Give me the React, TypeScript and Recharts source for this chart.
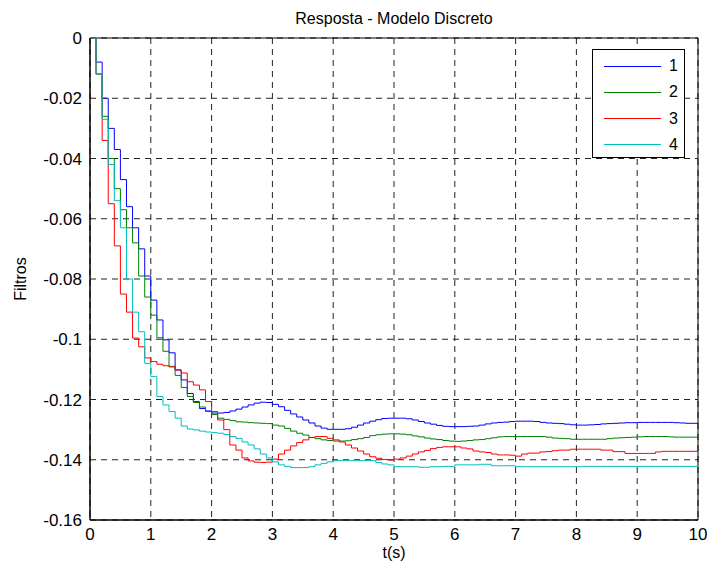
import { CartesianGrid, Legend, Line, LineChart, ReferenceArea, XAxis, YAxis } from "recharts";

const DT = 0.1;

const X_TICKS = [0, 1, 2, 3, 4, 5, 6, 7, 8, 9, 10];
const Y_TICKS = [0, -0.02, -0.04, -0.06, -0.08, -0.1, -0.12, -0.14, -0.16];

const SERIES_NAMES = ["1", "2", "3", "4"];
const COLORS = ["#0000ff", "#008000", "#ff0000", "#00bfbf"];

const S1 = [
  0, -0.008, -0.02, -0.03, -0.037, -0.047, -0.056, -0.063, -0.07, -0.079,
  -0.087, -0.0936, -0.1002, -0.1045, -0.1102, -0.1135, -0.118, -0.1207, -0.123, -0.1238,
  -0.1245, -0.1245, -0.1243, -0.1238, -0.1232, -0.1225, -0.1218, -0.1212, -0.1209, -0.121,
  -0.1216, -0.1224, -0.1236, -0.1248, -0.1258, -0.1268, -0.1278, -0.1288, -0.1295, -0.1299,
  -0.1299, -0.1299, -0.1297, -0.1292, -0.1285, -0.1278, -0.1272, -0.1267, -0.1263, -0.1262,
  -0.1262, -0.1262, -0.1264, -0.1268, -0.1273, -0.1278, -0.1282, -0.1286, -0.1289, -0.129,
  -0.129, -0.129, -0.1289, -0.1288, -0.1285, -0.1281, -0.1278, -0.1276, -0.1275, -0.1273,
  -0.1272, -0.1272, -0.1272, -0.1273, -0.1276, -0.1278, -0.1279, -0.128, -0.1282, -0.1284,
  -0.1285, -0.1285, -0.1284, -0.1283, -0.1281, -0.128, -0.1279, -0.1278, -0.1277, -0.1277,
  -0.1276, -0.1276, -0.1276, -0.1276, -0.1276, -0.1276, -0.1277, -0.1278, -0.1279, -0.1279,
  -0.1279,
];

const S2 = [
  0, -0.012, -0.026, -0.04, -0.05, -0.057, -0.063, -0.068, -0.079, -0.086,
  -0.092, -0.0995, -0.104, -0.109, -0.112, -0.116, -0.119, -0.121, -0.1225, -0.124,
  -0.125, -0.1262, -0.1266, -0.127, -0.1274, -0.1275, -0.1277, -0.1278, -0.1279, -0.128,
  -0.1285, -0.1288, -0.1296, -0.1305, -0.1312, -0.1318, -0.1326, -0.133, -0.1334, -0.1336,
  -0.1338, -0.1338, -0.1337, -0.1333, -0.133, -0.1326, -0.132, -0.1317, -0.1315, -0.1314,
  -0.1314, -0.1315, -0.1317, -0.1321, -0.1324, -0.1328, -0.1331, -0.1333, -0.1336, -0.1338,
  -0.1339, -0.1338, -0.1336, -0.1334, -0.1333, -0.133, -0.1327, -0.1324, -0.1323, -0.1323,
  -0.1323, -0.1323, -0.1323, -0.1323, -0.1323, -0.1325, -0.1328, -0.1329, -0.133, -0.1332,
  -0.1332, -0.1332, -0.1332, -0.1332, -0.1332, -0.133, -0.1328, -0.1327, -0.1326, -0.1325,
  -0.1324, -0.1323, -0.1323, -0.1323, -0.1323, -0.1324, -0.1325, -0.1325, -0.1325, -0.1325,
  -0.1325,
];

const S3 = [
  0, -0.012, -0.034, -0.055, -0.069, -0.085, -0.091, -0.0996, -0.1025, -0.1062,
  -0.1074, -0.1083, -0.1088, -0.1092, -0.1102, -0.1112, -0.1141, -0.1152, -0.1168, -0.1207,
  -0.124, -0.1268, -0.13, -0.1351, -0.1368, -0.1394, -0.1404, -0.1408, -0.1409, -0.1408,
  -0.1398, -0.1381, -0.1368, -0.1354, -0.1343, -0.1334, -0.1326, -0.1323, -0.1323, -0.1329,
  -0.1334, -0.1341, -0.1351, -0.1361, -0.1371, -0.1381, -0.139, -0.1395, -0.1399, -0.1401,
  -0.1398, -0.1394, -0.1388, -0.1381, -0.1374, -0.1369, -0.1363, -0.1359, -0.1357, -0.1357,
  -0.1357, -0.1361, -0.1364, -0.1371, -0.1374, -0.1376, -0.1381, -0.1384, -0.1384, -0.1385,
  -0.1388, -0.1381, -0.1378, -0.1378, -0.1374, -0.1373, -0.137, -0.1368, -0.1368, -0.1365,
  -0.1365, -0.1365, -0.1365, -0.1365, -0.1368, -0.1368, -0.1373, -0.1373, -0.1379, -0.1379,
  -0.1379, -0.1379, -0.1379, -0.1374, -0.1372, -0.1372, -0.1372, -0.1372, -0.1372, -0.1372,
  -0.1372,
];

const S4 = [
  0, -0.012, -0.027, -0.042, -0.054, -0.063, -0.08, -0.091, -0.0975, -0.108,
  -0.1124, -0.119, -0.1218, -0.124, -0.1262, -0.1288, -0.1298, -0.1301, -0.1305, -0.1308,
  -0.131, -0.1312, -0.1316, -0.1323, -0.1329, -0.1341, -0.1351, -0.1364, -0.1381, -0.1394,
  -0.1407, -0.1417, -0.1422, -0.1426, -0.1426, -0.1426, -0.1423, -0.1417, -0.1412, -0.1407,
  -0.1403, -0.1403, -0.1403, -0.1403, -0.1403, -0.1403, -0.1403, -0.1409, -0.1414, -0.1417,
  -0.1423, -0.1423, -0.1423, -0.1423, -0.1425, -0.1425, -0.1423, -0.1423, -0.1422, -0.1422,
  -0.1417, -0.1417, -0.1417, -0.1417, -0.1415, -0.1415, -0.142, -0.142, -0.142, -0.142,
  -0.1423, -0.1423, -0.1423, -0.1423, -0.1423, -0.1423, -0.1423, -0.1423, -0.1423, -0.1423,
  -0.1423, -0.1422, -0.1422, -0.1422, -0.1422, -0.1422, -0.1422, -0.1422, -0.1422, -0.1422,
  -0.1422, -0.1422, -0.1422, -0.1422, -0.1422, -0.1422, -0.1422, -0.1422, -0.1422, -0.1422,
  -0.1422,
];

const SERIES = [S1, S2, S3, S4];

const data = S1.map((_, i) => {
  const row: Record<string, number> = { t: Math.round(i * DT * 10) / 10 };
  SERIES.forEach((s, k) => {
    row[`s${k + 1}`] = s[i];
  });
  return row;
});

/* ───────────── style ───────────── */

const FONT = "'Liberation Sans', Arial, Helvetica, sans-serif";
const W = 707;
const H = 571;

const fmtY = (v: number) => String(Number(v.toFixed(2)));

function MatlabLegend() {
  return (
    <div
      style={{
        width: 93,
        height: 109,
        boxSizing: "border-box",
        border: "1px solid #000",
        background: "#fff",
        position: "relative",
        fontFamily: FONT,
        fontSize: 16,
        color: "#000",
      }}
    >
      {SERIES_NAMES.map((name, i) => (
        <div key={name} style={{ position: "absolute", left: 0, top: 16 + i * 26.3 - 9, height: 18, display: "flex", alignItems: "center" }}>
          <span style={{ display: "inline-block", marginLeft: 11, width: 57, height: 1, background: COLORS[i] }} />
          <span style={{ marginLeft: 8, lineHeight: "18px" }}>{name}</span>
        </div>
      ))}
    </div>
  );
}

export default function App() {
  return (
    <div style={{ position: "absolute", left: 0, top: 0, width: W, height: H, background: "#fff", fontFamily: FONT }}>
      <div
        style={{
          position: "absolute",
          left: 90,
          width: 608,
          top: 10,
          textAlign: "center",
          fontSize: 16,
          lineHeight: "18px",
          color: "#000",
        }}
      >
        Resposta - Modelo Discreto
      </div>
      <LineChart width={W} height={H} data={data} margin={{ top: 38, right: 9, bottom: 0, left: 0 }}>
        <CartesianGrid stroke="#222" strokeDasharray="6 5" strokeWidth={1} />
        <XAxis
          dataKey="t"
          type="number"
          domain={[0, 10]}
          ticks={X_TICKS}
          interval={0}
          height={51}
          tickLine={false}
          axisLine={{ stroke: "#000" }}
          tick={{ fill: "#000", fontSize: 17, fontFamily: FONT }}
          label={{ value: "t(s)", position: "insideBottom", offset: 13, fill: "#000", fontSize: 16, fontFamily: FONT }}
        />
        <YAxis
          type="number"
          domain={[-0.16, 0]}
          ticks={Y_TICKS}
          interval={0}
          width={90}
          tickLine={false}
          axisLine={{ stroke: "#000" }}
          tickFormatter={fmtY}
          tick={{ fill: "#000", fontSize: 17, fontFamily: FONT }}
          label={{
            content: () => (
              <text
                x={22}
                y={279}
                transform="rotate(-90 22 279)"
                textAnchor="middle"
                dominantBaseline="middle"
                fill="#000"
                fontSize={16}
                fontFamily={FONT}
              >
                Filtros
              </text>
            ),
          }}
        />
        {SERIES_NAMES.map((name, k) => (
          <Line
            key={name}
            type="stepAfter"
            dataKey={`s${k + 1}`}
            name={name}
            stroke={COLORS[k]}
            strokeWidth={1}
            dot={false}
            activeDot={false}
            isAnimationActive={false}
          />
        ))}
        <ReferenceArea x1={0} x2={10} y1={-0.16} y2={0} fill="none" stroke="#000" strokeWidth={1} ifOverflow="visible" />
        <Legend
          layout="vertical"
          align="center"
          verticalAlign="middle"
          wrapperStyle={{ left: 592, top: 49, width: 93, height: 109 }}
          content={() => <MatlabLegend />}
        />
      </LineChart>
    </div>
  );
}
